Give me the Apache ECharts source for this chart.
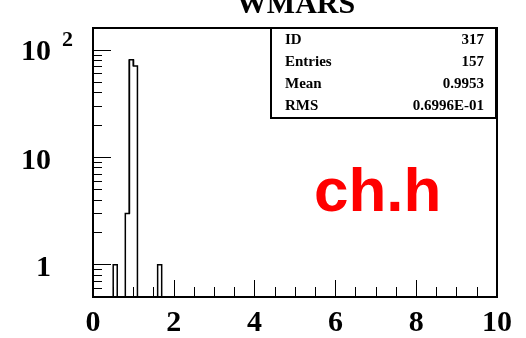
<!DOCTYPE html>
<html>
<head>
<meta charset="utf-8">
<script src="https://cdn.jsdelivr.net/npm/echarts@6/dist/echarts.min.js"></script>
<style>html,body{margin:0;padding:0;background:#fff;}#c{width:526px;height:338px;}</style>
</head>
<body>
<div id="c"></div>
<script>
// ---- data ----
var title = 'WMARS';
var binLow = [0.5, 0.8, 0.9, 1.0, 1.6];
var binCounts = [1, 3, 81, 71, 1];
var binWidth = 0.1;
var xTicks = [0, 2, 4, 6, 8, 10];
var yMajor = [1, 10, 100];
var yMinor = [0.6, 0.7, 0.8, 0.9, 2, 3, 4, 5, 6, 7, 8, 9, 20, 30, 40, 50, 60, 70, 80, 90];
var statNames = ['ID', 'Entries', 'Mean', 'RMS'];
var statValues = ['317', '157', '0.9953', '0.6996E-01'];
var tag = 'ch.h';

// ---- build ----
var serif = '"Liberation Serif","Times New Roman",serif';
var items = binLow.map(function (s, i) {
  var prev = (i > 0 && Math.abs(binLow[i - 1] + binWidth - s) < 1e-6) ? binCounts[i - 1] : 0;
  var next = (i < binLow.length - 1 && Math.abs(s + binWidth - binLow[i + 1]) < 1e-6) ? binCounts[i + 1] : 0;
  return [s, binCounts[i], prev, next];
});

var chart = echarts.init(document.getElementById('c'));
var statGraphics = [{
  type: 'rect', shape: { x: 271, y: 28, width: 225, height: 90 },
  style: { fill: '#fff', stroke: '#000', lineWidth: 2 }, z: 100
}];
statNames.forEach(function (n, i) {
  statGraphics.push({ type: 'text', z: 101, style: { text: n, x: 285, y: 40 + i * 22, font: 'bold 15px ' + serif, fill: '#000', textAlign: 'left', textVerticalAlign: 'middle' } });
  statGraphics.push({ type: 'text', z: 101, style: { text: statValues[i], x: 484, y: 40 + i * 22, font: 'bold 15px ' + serif, fill: '#000', textAlign: 'right', textVerticalAlign: 'middle' } });
});
statGraphics.push({ type: 'text', z: 101, style: { text: title, x: 296, y: 20, font: 'bold 30px ' + serif, fill: '#000', textAlign: 'center', textVerticalAlign: 'bottom' } });
statGraphics.push({ type: 'text', z: 101, style: { text: tag, x: 314, y: 225, font: 'bold 62px "Liberation Sans",Arial,sans-serif', fill: '#ff0000', textAlign: 'left', textVerticalAlign: 'bottom' } });

chart.setOption({
  animation: false,
  grid: { left: 93, right: 29, top: 28, bottom: 36, show: true, borderColor: '#000', borderWidth: 2, backgroundColor: 'transparent' },
  xAxis: {
    type: 'value', min: 0, max: 10, interval: 2,
    axisLine: { lineStyle: { color: '#000', width: 2 } },
    axisTick: { inside: true, length: 17, lineStyle: { color: '#000', width: 1 } },
    minorTick: { show: true, splitNumber: 4, length: 10, lineStyle: { color: '#000', width: 1 } },
    splitLine: { show: false },
    axisLabel: { margin: 11, color: '#000', fontFamily: serif, fontWeight: 'bold', fontSize: 30, customValues: xTicks }
  },
  yAxis: [{
    type: 'log', min: 0.5, max: 160, logBase: 10,
    axisLine: { show: true, lineStyle: { color: '#000', width: 2 } },
    axisTick: { inside: true, length: 18, customValues: yMajor, lineStyle: { color: '#000', width: 1 } },
    splitLine: { show: false },
    axisLabel: {
      customValues: yMajor, margin: 20, color: '#000',
      formatter: function (v) {
        if (Math.abs(v - 100) < 1e-6) return '{t|10}{s|2}';
        return '{n|' + Math.round(v) + '}{p|}';
      },
      rich: {
        t: { fontFamily: serif, fontWeight: 'bold', fontSize: 30, color: '#000', lineHeight: 30, padding: [4, 0, 0, 0] },
        n: { fontFamily: serif, fontWeight: 'bold', fontSize: 30, color: '#000', lineHeight: 30, padding: [8, 0, 0, 0] },
        s: { fontFamily: serif, fontWeight: 'bold', fontSize: 22, color: '#000', width: 22, align: 'right', lineHeight: 22, padding: [0, 0, 20, 0] },
        p: { width: 22, fontSize: 22 }
      }
    }
  }, {
    type: 'log', min: 0.5, max: 160, logBase: 10, position: 'left',
    axisLine: { show: false },
    axisTick: { show: true, inside: true, length: 9, customValues: yMinor, lineStyle: { color: '#000', width: 1 } },
    axisLabel: { show: false },
    splitLine: { show: false }
  }],
  graphic: statGraphics,
  series: [{
    type: 'custom',
    xAxisIndex: 0, yAxisIndex: 0,
    data: items,
    encode: { x: 0, y: 1 },
    clip: true,
    renderItem: function (params, api) {
      var s = api.value(0), c = api.value(1), pv = api.value(2), nx = api.value(3);
      var bottom = params.coordSys.y + params.coordSys.height;
      var p0 = api.coord([s, c]);
      var p1 = api.coord([s + binWidth, c]);
      var yPrev = pv > 0 ? api.coord([s, pv])[1] : bottom;
      var yNext = nx > 0 ? api.coord([s, nx])[1] : bottom;
      return {
        type: 'polyline',
        shape: { points: [[p0[0], yPrev], [p0[0], p0[1]], [p1[0], p1[1]], [p1[0], yNext]] },
        style: { stroke: '#000', lineWidth: 1.5, fill: null }
      };
    }
  }]
});
</script>
</body>
</html>
